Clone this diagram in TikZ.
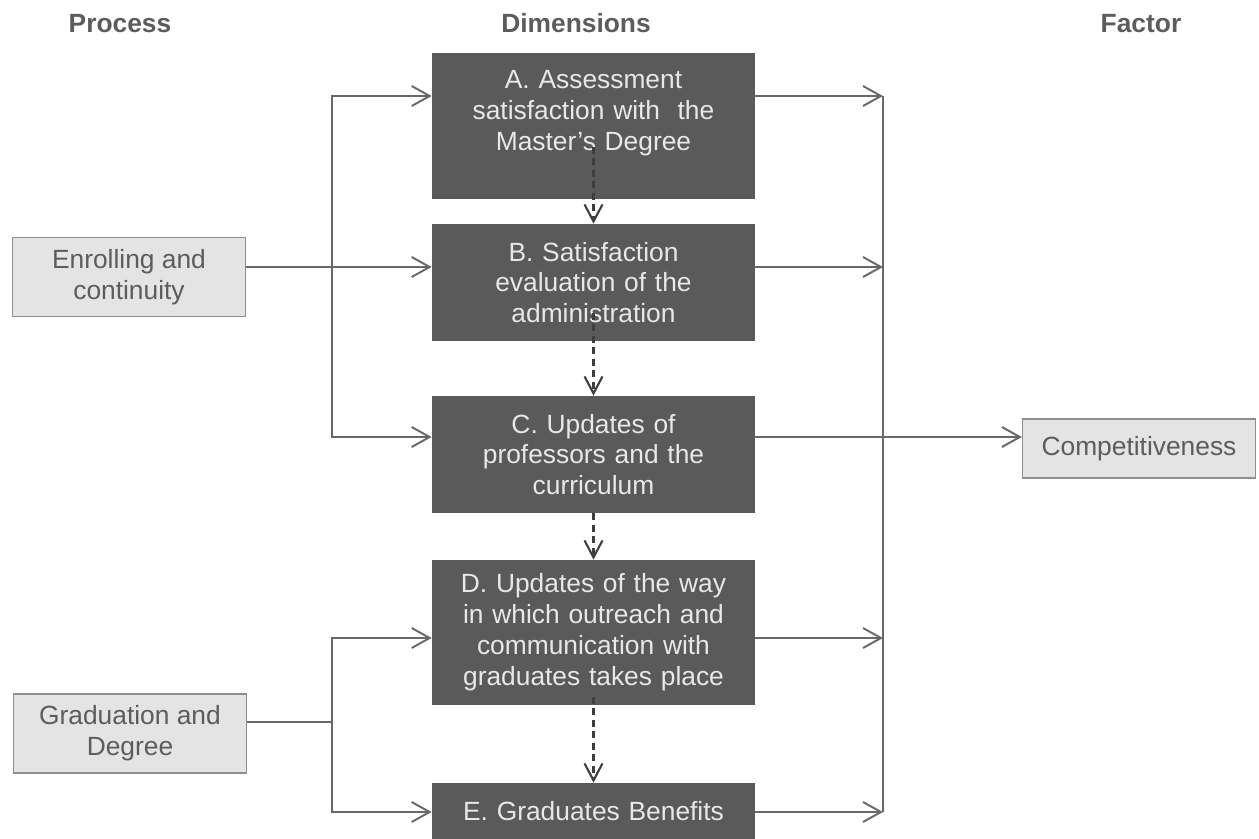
\documentclass[tikz,border=0pt]{standalone}
\usepackage{fontspec}
\setmainfont{Liberation Sans}
\usetikzlibrary{arrows.meta,calc}

\definecolor{boxdark}{HTML}{5A5A5A}
\definecolor{boxlight}{HTML}{E4E4E4}
\definecolor{linegray}{HTML}{686868}
\definecolor{dashgray}{HTML}{3E3E3E}
\definecolor{txtgray}{HTML}{5C5C5C}
\definecolor{txtlight}{HTML}{E8E8E8}

\newcommand{\boxfont}{\fontsize{15}{17.6}\selectfont}

\tikzset{
  dimbox/.style={fill=boxdark, text=txtlight, inner sep=0pt,
    minimum width=6.46cm, text width=6.3cm, align=center},
  procbox/.style={fill=boxlight, draw=linegray!75, line width=0.7pt, text=txtgray,
    inner sep=0pt, minimum width=4.66cm, minimum height=1.58cm, align=center},
  header/.style={text=txtgray, font=\boxfont\bfseries, anchor=base},
  flow/.style={draw=linegray, line width=1.1pt},
  flowarr/.style={flow, -{Straight Barb[length=0.36cm,width=0.4cm]}},
  dasharr/.style={flow, draw=dashgray, line width=1.2pt, dash pattern=on 4pt off 2.5pt,
    -{Straight Barb[length=0.34cm,width=0.36cm]}}
}

\begin{document}
\begin{tikzpicture}[x=0.02cm, y=-0.02cm, every node/.style={font=\boxfont}]

\useasboundingbox (0,0) rectangle (1259,839);

% --------- Column headers ----------
\node[header] (hProc)   at (120,32)  {Process};
\node[header] (hDim)    at (576,32)  {Dimensions};
\node[header] (hFactor) at (1141,32) {Factor};

% --------- Dimension boxes ----------
\node[dimbox, minimum height=2.92cm] (dimA) at (593.5,126)
  {A. Assessment\\satisfaction with\ \ the\\Master’s Degree\\\mbox{}};
\node[dimbox, minimum height=2.34cm] (dimB) at (593.5,282.5)
  {B. Satisfaction\\evaluation of the\\administration};
\node[dimbox, minimum height=2.34cm] (dimC) at (593.5,454.5)
  {C. Updates of\\professors and the\\curriculum};
\node[dimbox, minimum height=2.90cm] (dimD) at (593.5,632.5)
  {D. Updates of the way\\in which outreach and\\communication with\\graduates takes place};
\node[dimbox, minimum height=1.12cm] (dimE) at (593.5,811)
  {E. Graduates Benefits};

% --------- Process and factor boxes ----------
\node[procbox] (Enrol) at (129,277)   {Enrolling and\\continuity};
\node[procbox] (Grad)  at (130,733.5) {Graduation and\\Degree};
\node[procbox, minimum height=1.18cm] (Comp) at (1139,448.5) {Competitiveness};

% --------- Levels of the connectors ----------
\coordinate (yA) at (0,96);
\coordinate (yB) at (0,267);
\coordinate (yC) at (0,437);
\coordinate (yD) at (0,638);
\coordinate (yG) at (0,722);
\coordinate (yE) at (0,812);
\coordinate (busL) at (332,0);
\coordinate (busR) at (883,0);

% --------- Process -> dimensions ----------
\draw[flowarr] (Enrol.east |- yB) -- (dimB.west |- yB);
\draw[flowarr] (busL |- yB) |- (dimA.west |- yA);
\draw[flowarr] (busL |- yB) |- (dimC.west |- yC);

\draw[flow] (Grad.east |- yG) -- (busL |- yG);
\draw[flowarr] (busL |- yG) |- (dimD.west |- yD);
\draw[flowarr] (busL |- yG) |- (dimE.west |- yE);

% --------- Dimensions -> factor ----------
\foreach \n/\y in {dimA/yA, dimB/yB, dimD/yD, dimE/yE}
  \draw[flowarr] (\n.east |- \y) -- (busR |- \y);
\draw[flow] (busR |- yA) -- (busR |- yE);
\draw[flowarr] (dimC.east |- yC) -- (Comp.west |- yC);

% --------- Dashed links between dimensions ----------
\coordinate (dA) at (593.5,147);
\coordinate (dB) at (593.5,313);
\coordinate (dD) at (593.5,697);
\draw[dasharr] (dA) -- (dimB.north);
\draw[dasharr] (dB) -- (dimC.north);
\draw[dasharr] (dimC.south) -- (dimD.north);
\draw[dasharr] (dD) -- (dimE.north);

\end{tikzpicture}
\end{document}
